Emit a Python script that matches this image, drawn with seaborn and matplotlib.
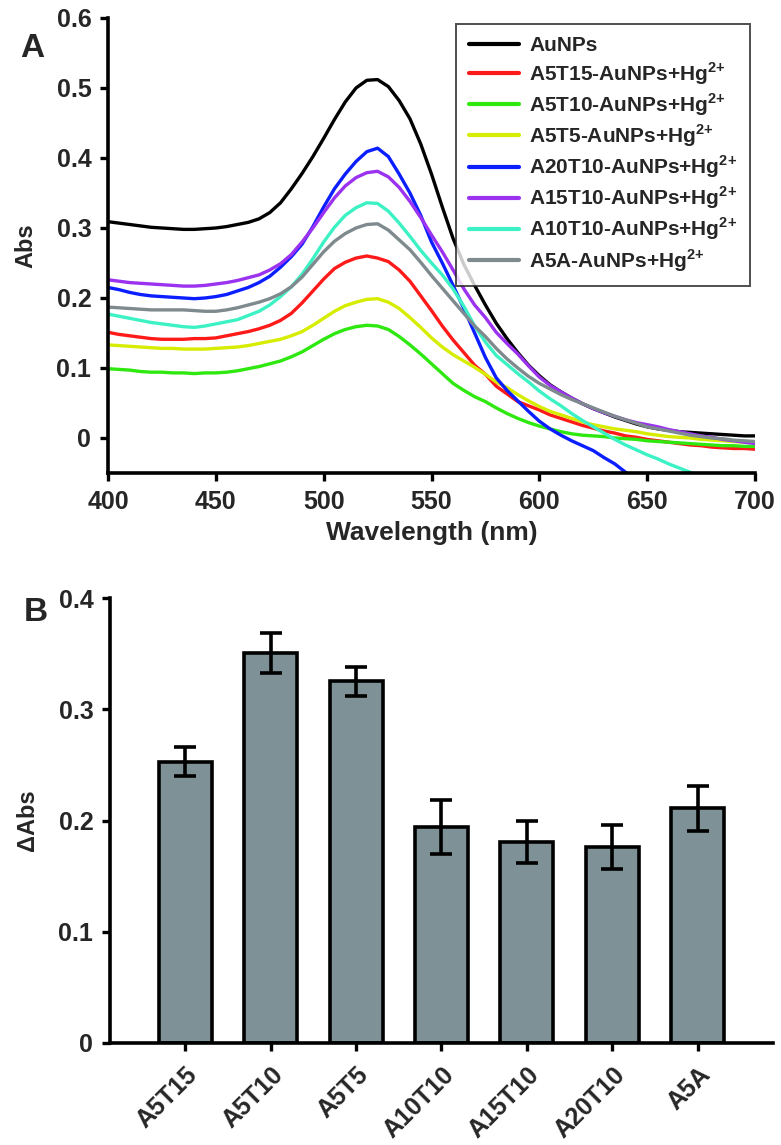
import numpy as np
import pandas as pd
import matplotlib
matplotlib.use("Agg")
import matplotlib.pyplot as plt
from matplotlib.ticker import FuncFormatter
import seaborn as sns

# === Panel A data: UV-vis spectra (5 nm steps) ===
wavelength = list(range(400, 705, 5))

aunps = [0.309, 0.307, 0.305, 0.303, 0.301, 0.300, 0.299, 0.298, 0.298, 0.299,
         0.300, 0.302, 0.305, 0.308, 0.313, 0.322, 0.336, 0.356, 0.378, 0.402,
         0.428, 0.455, 0.480, 0.500, 0.511, 0.512, 0.502, 0.482, 0.456, 0.420,
         0.377, 0.330, 0.285, 0.248, 0.218, 0.190, 0.164, 0.142, 0.122, 0.104,
         0.089, 0.076, 0.066, 0.057, 0.049, 0.042, 0.036, 0.030, 0.025, 0.020,
         0.016, 0.013, 0.011, 0.009, 0.008, 0.007, 0.006, 0.005, 0.004, 0.003,
         0.003]
a5t15 = [0.151, 0.148, 0.146, 0.144, 0.142, 0.141, 0.141, 0.141, 0.142, 0.142,
         0.143, 0.146, 0.149, 0.152, 0.156, 0.161, 0.168, 0.178, 0.193, 0.210,
         0.227, 0.242, 0.251, 0.257, 0.260, 0.257, 0.252, 0.240, 0.224, 0.203,
         0.182, 0.160, 0.140, 0.122, 0.104, 0.091, 0.074, 0.063, 0.052, 0.046,
         0.040, 0.033, 0.028, 0.023, 0.018, 0.014, 0.010, 0.007, 0.003, 0.001,
         -0.002, -0.004, -0.006, -0.008, -0.010, -0.011, -0.013, -0.014, -0.015, -0.015,
         -0.016]
a5t10 = [0.099, 0.098, 0.097, 0.095, 0.094, 0.094, 0.093, 0.093, 0.092, 0.093,
         0.093, 0.094, 0.096, 0.099, 0.102, 0.106, 0.110, 0.116, 0.123, 0.132,
         0.141, 0.149, 0.155, 0.159, 0.161, 0.160, 0.155, 0.145, 0.133, 0.120,
         0.106, 0.092, 0.078, 0.068, 0.059, 0.052, 0.043, 0.035, 0.028, 0.022,
         0.017, 0.013, 0.009, 0.006, 0.004, 0.003, 0.002, 0.000, -0.001, -0.002,
         -0.004, -0.005, -0.006, -0.007, -0.008, -0.009, -0.010, -0.011, -0.011, -0.012,
         -0.012]
a5t5 = [0.133, 0.132, 0.131, 0.130, 0.129, 0.128, 0.128, 0.127, 0.127, 0.127,
        0.128, 0.129, 0.130, 0.132, 0.135, 0.138, 0.141, 0.146, 0.152, 0.161,
        0.171, 0.181, 0.189, 0.194, 0.198, 0.199, 0.194, 0.185, 0.172, 0.158,
        0.143, 0.130, 0.119, 0.110, 0.101, 0.091, 0.080, 0.072, 0.062, 0.053,
        0.045, 0.038, 0.033, 0.028, 0.023, 0.019, 0.016, 0.013, 0.011, 0.009,
        0.006, 0.004, 0.002, 0.001, 0.000, -0.002, -0.003, -0.004, -0.005, -0.006,
        -0.006]
a20t10 = [0.215, 0.212, 0.208, 0.205, 0.203, 0.202, 0.201, 0.200, 0.199, 0.200,
          0.202, 0.205, 0.210, 0.215, 0.222, 0.231, 0.244, 0.259, 0.277, 0.302,
          0.330, 0.356, 0.377, 0.395, 0.409, 0.414, 0.402, 0.377, 0.350, 0.318,
          0.280, 0.250, 0.218, 0.185, 0.150, 0.115, 0.086, 0.068, 0.053, 0.038,
          0.024, 0.013, 0.004, -0.004, -0.011, -0.018, -0.028, -0.037, -0.049, -0.060,
          np.nan, np.nan, np.nan, np.nan, np.nan, np.nan, np.nan, np.nan, np.nan, np.nan,
          np.nan]
a15t10 = [0.226, 0.224, 0.222, 0.221, 0.220, 0.219, 0.218, 0.217, 0.217, 0.218,
          0.220, 0.222, 0.225, 0.229, 0.233, 0.240, 0.249, 0.262, 0.280, 0.300,
          0.322, 0.343, 0.360, 0.372, 0.379, 0.381, 0.373, 0.358, 0.338, 0.315,
          0.290, 0.266, 0.240, 0.213, 0.190, 0.172, 0.151, 0.135, 0.120, 0.103,
          0.087, 0.075, 0.066, 0.057, 0.049, 0.042, 0.036, 0.031, 0.026, 0.022,
          0.019, 0.016, 0.012, 0.009, 0.006, 0.003, 0.001, -0.002, -0.004, -0.006,
          -0.008]
a10t10 = [0.177, 0.174, 0.171, 0.168, 0.165, 0.163, 0.161, 0.159, 0.158, 0.160,
          0.163, 0.166, 0.169, 0.175, 0.181, 0.190, 0.202, 0.216, 0.234, 0.256,
          0.280, 0.301, 0.318, 0.329, 0.336, 0.335, 0.324, 0.307, 0.288, 0.268,
          0.250, 0.233, 0.213, 0.188, 0.160, 0.137, 0.118, 0.105, 0.092, 0.080,
          0.067, 0.056, 0.046, 0.035, 0.025, 0.016, 0.007, -0.002, -0.010, -0.017,
          -0.024, -0.030, -0.037, -0.043, -0.049, -0.056, np.nan, np.nan, np.nan, np.nan,
          np.nan]
a5a = [0.187, 0.186, 0.185, 0.184, 0.183, 0.183, 0.183, 0.183, 0.182, 0.181,
       0.181, 0.183, 0.186, 0.190, 0.194, 0.199, 0.206, 0.216, 0.230, 0.248,
       0.266, 0.281, 0.292, 0.300, 0.305, 0.306, 0.297, 0.283, 0.269, 0.251,
       0.232, 0.214, 0.196, 0.178, 0.160, 0.145, 0.128, 0.113, 0.100, 0.088,
       0.078, 0.070, 0.062, 0.055, 0.049, 0.043, 0.037, 0.031, 0.026, 0.021,
       0.016, 0.013, 0.010, 0.007, 0.004, 0.002, 0.000, -0.001, -0.003, -0.004,
       -0.005]

hg = r"-AuNPs+Hg$^{\mathbf{2{+}}}$"
series_labels = ["AuNPs", "A5T15" + hg, "A5T10" + hg, "A5T5" + hg,
                 "A20T10" + hg, "A15T10" + hg, "A10T10" + hg, "A5A" + hg]
series_values = [aunps, a5t15, a5t10, a5t5, a20t10, a15t10, a10t10, a5a]
series_colors = ["#000000", "#ff1a1a", "#2ee80f", "#d6ec00",
                 "#0a1eff", "#9a32f0", "#3cf2c4", "#7f8a8e"]

# === Panel B data: delta Abs per probe ===
probes = ["A5T15", "A5T10", "A5T5", "A10T10", "A15T10", "A20T10", "A5A"]
delta_abs = [0.253, 0.351, 0.325, 0.194, 0.181, 0.176, 0.211]
delta_err = [0.013, 0.018, 0.013, 0.024, 0.019, 0.020, 0.020]

# === Style ===
sns.set_theme(style="white")
plt.rcParams["font.family"] = ["Liberation Sans", "DejaVu Sans"]
plt.rcParams["font.weight"] = "bold"
plt.rcParams["mathtext.fontset"] = "custom"
plt.rcParams["mathtext.bf"] = "Liberation Sans:bold"
plt.rcParams["mathtext.rm"] = "Liberation Sans:bold"

fig = plt.figure(figsize=(7.81, 11.45), dpi=100)
ax_a = fig.add_axes([0.1383, 0.5869, 0.8284, 0.3974])
ax_b = fig.add_axes([0.1408, 0.0891, 0.8489, 0.3886])

zero_fmt = FuncFormatter(lambda v, p: f"{v:.1f}" if abs(v) > 1e-9 else "0")

# === Panel A ===
spectra = pd.DataFrame({
    "wavelength": wavelength * len(series_labels),
    "abs": np.concatenate(series_values),
    "sample": np.repeat(series_labels, len(wavelength)),
}).dropna()

sns.lineplot(data=spectra, x="wavelength", y="abs", hue="sample",
             hue_order=series_labels, palette=series_colors,
             estimator=None, errorbar=None, sort=False,
             linewidth=2.4, ax=ax_a)

ax_a.set_xlim(400, 700)
ax_a.set_ylim(-0.05, 0.6)
ax_a.set_xticks(range(400, 701, 50))
ax_a.set_yticks(np.arange(0, 0.61, 0.1))
ax_a.yaxis.set_major_formatter(zero_fmt)
ax_a.set_xlabel("Wavelength (nm)", fontsize=19, fontweight="bold", labelpad=5)
ax_a.set_ylabel("Abs", fontsize=17, fontweight="bold", labelpad=14)

leg = ax_a.legend(loc="upper right", bbox_to_anchor=(0.992, 0.987),
                  frameon=True, fancybox=False, fontsize=15,
                  handlelength=2.4, handletextpad=0.5, labelspacing=0.22,
                  borderpad=0.6, borderaxespad=0)
leg.get_frame().set_edgecolor("#222222")
leg.get_frame().set_linewidth(1.4)
for line in leg.get_lines():
    line.set_linewidth(3)
for txt in leg.get_texts():
    txt.set_fontweight("bold")

# === Panel B ===
bars = pd.DataFrame({"probe": probes, "dabs": delta_abs, "err": delta_err})
sns.barplot(data=bars, x="probe", y="dabs", order=probes, color="#7d9197",
            saturation=1, width=0.62, edgecolor="black", linewidth=2.6,
            errorbar=None, ax=ax_b)
ax_b.errorbar(x=bars["probe"], y=bars["dabs"], yerr=bars["err"], fmt="none",
              ecolor="black", elinewidth=2.6, capsize=8, capthick=2.6, zorder=5)

ax_b.set_xlim(-0.88, 6.88)
ax_b.set_ylim(0, 0.4)
ax_b.set_yticks(np.arange(0, 0.41, 0.1))
ax_b.yaxis.set_major_formatter(zero_fmt)
ax_b.set_xlabel("")
ax_b.set_ylabel("ΔAbs", fontsize=17, fontweight="bold", labelpad=14)
plt.setp(ax_b.get_xticklabels(), rotation=45, ha="right", rotation_mode="anchor")

# === Common axis styling ===
for ax in (ax_a, ax_b):
    sns.despine(ax=ax)
    for side in ("left", "bottom"):
        ax.spines[side].set_color("black")
        ax.spines[side].set_linewidth(2.6)
    ax.tick_params(axis="both", direction="out", length=6, width=2.4,
                   color="black", labelsize=18, pad=6,
                   bottom=True, left=True)
    for lab in ax.get_xticklabels() + ax.get_yticklabels():
        lab.set_fontweight("bold")

ax_b.tick_params(axis="x", labelsize=18, pad=8)

fig.text(20 / 781, 1 - 57 / 1145, "A", fontsize=24, fontweight="bold")
fig.text(24 / 781, 1 - 621 / 1145, "B", fontsize=24, fontweight="bold")

fig.savefig("out.png", dpi=100, facecolor="white")
